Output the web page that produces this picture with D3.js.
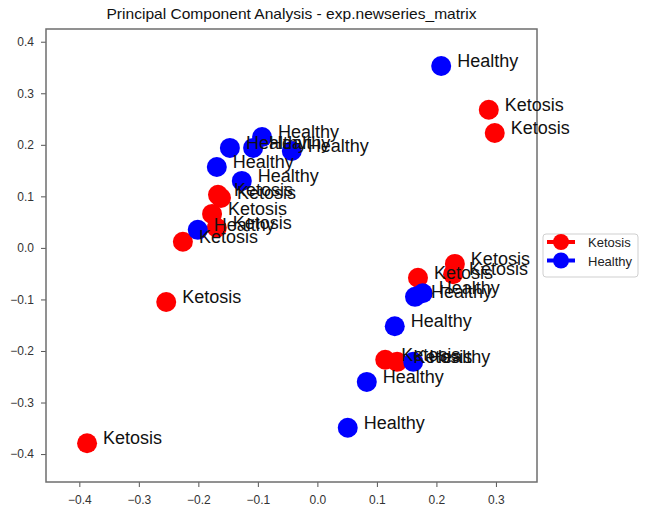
<!DOCTYPE html>
<html lang="en">
<head>
<meta charset="utf-8">
<style>
    body { margin: 0; background: #fff; }
    svg { font-family: "Liberation Sans", Arial, sans-serif; }
    .frame { fill: none; stroke: #6e6e6e; stroke-width: 1.5px; }
    .tick line { stroke: #555; }
    .tick text { fill: #333; font-size: 12px; }
    .lbl { font-size: 18px; fill: #111; }
</style>
</head>
<body>
<svg width="645" height="510"></svg>
<script src="https://d3js.org/d3.v7.min.js"></script>
<script>
// sample groups, PC1 and PC2 values
var groups = ["Ketosis", "Healthy"];
var colors = ["#ff0000", "#0000ff"];

var ketosisPC1 = [0.288, 0.298, -0.167, -0.162, -0.177, -0.169, -0.226, -0.254, -0.387, 0.231, 0.228, 0.169, 0.114, 0.134];
var ketosisPC2 = [0.268, 0.223, 0.103, 0.097, 0.066, 0.039, 0.012, -0.105, -0.379, -0.031, -0.051, -0.058, -0.217, -0.221];

var healthyPC1 = [0.208, -0.093, -0.147, -0.108, -0.043, -0.169, -0.127, -0.201, 0.164, 0.177, 0.130, 0.161, 0.083, 0.051];
var healthyPC2 = [0.353, 0.215, 0.194, 0.194, 0.188, 0.157, 0.130, 0.035, -0.095, -0.088, -0.152, -0.221, -0.260, -0.349];

var xTicks = [-0.4, -0.3, -0.2, -0.1, 0.0, 0.1, 0.2, 0.3];
var yTicks = [-0.4, -0.3, -0.2, -0.1, 0.0, 0.1, 0.2, 0.3, 0.4];

var title = "Principal Component Analysis - exp.newseries_matrix";

var svg = d3.select("svg");
// plot box (note: "top" is a reserved window prop, so use plot* names)
var plotL = 46, plotR = 537, plotT = 29, plotB = 482;

var x = d3.scaleLinear().domain([-0.456, 0.369]).range([plotL, plotR]);
var y = d3.scaleLinear().domain([-0.4542, 0.4247]).range([plotB, plotT]);

var points = [];
ketosisPC1.forEach(function (v, i) { points.push({g: 0, x: v, y: ketosisPC2[i]}); });
healthyPC1.forEach(function (v, i) { points.push({g: 1, x: v, y: healthyPC2[i]}); });

// axes
var fmt = d3.format(".1f");
svg.append("g")
    .attr("transform", "translate(0," + plotB + ")")
    .call(d3.axisBottom(x).tickValues(xTicks).tickFormat(fmt).tickSize(5).tickPadding(8))
    .call(function (g) { g.select(".domain").remove(); });

svg.append("g")
    .attr("transform", "translate(" + plotL + ",0)")
    .call(d3.axisLeft(y).tickValues(yTicks).tickFormat(fmt).tickSize(5).tickPadding(7))
    .call(function (g) { g.select(".domain").remove(); });

svg.append("rect").attr("class", "frame")
    .attr("x", plotL).attr("y", plotT)
    .attr("width", plotR - plotL).attr("height", plotB - plotT);

// markers
svg.append("g").selectAll("circle")
    .data(points)
    .enter().append("circle")
    .attr("cx", function (d) { return x(d.x); })
    .attr("cy", function (d) { return y(d.y); })
    .attr("r", 10)
    .attr("fill", function (d) { return colors[d.g]; });

// sample labels
svg.append("g").selectAll("text")
    .data(points)
    .enter().append("text")
    .attr("class", "lbl")
    .attr("x", function (d) { return x(d.x) + 16; })
    .attr("y", function (d) { return y(d.y) + 1; })
    .text(function (d) { return groups[d.g]; });

// title
svg.append("text")
    .attr("x", (plotL + plotR) / 2).attr("y", 19)
    .attr("text-anchor", "middle")
    .attr("font-size", 15)
    .attr("fill", "#111")
    .attr("textLength", 370)
    .attr("lengthAdjust", "spacingAndGlyphs")
    .text(title);

// legend
var lg = svg.append("g").attr("transform", "translate(543,234)");
lg.append("rect")
    .attr("width", 95).attr("height", 43).attr("rx", 3)
    .attr("fill", "#fff").attr("stroke", "#cfcfcf");
groups.forEach(function (name, i) {
    var cy = 8 + i * 18.5;
    lg.append("line")
        .attr("x1", 4).attr("x2", 32).attr("y1", cy).attr("y2", cy)
        .attr("stroke", colors[i]).attr("stroke-width", 4);
    lg.append("circle")
        .attr("cx", 18).attr("cy", cy).attr("r", 8)
        .attr("fill", colors[i]);
    lg.append("text")
        .attr("x", 45).attr("y", cy + 5)
        .attr("font-size", 13).attr("fill", "#222")
        .text(name);
});
</script>
</body>
</html>
